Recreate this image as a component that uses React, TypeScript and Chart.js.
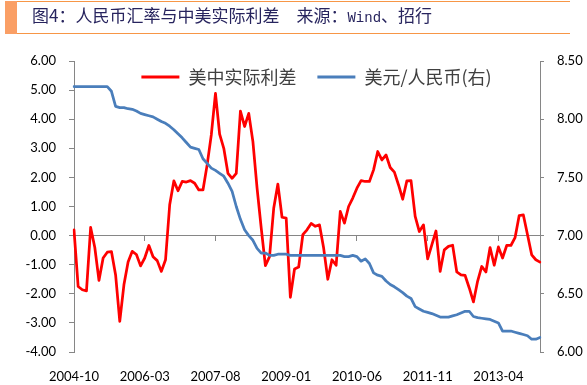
import React, { useEffect, useRef } from 'react';
import { Chart, registerables } from 'chart.js';

Chart.register(...registerables);

// ---- data ----
const START_YEAR = 2004;
const START_MONTH = 10;
const LABEL_STEP = 17;

const SERIES_NAMES = ['美中实际利差', '美元/人民币(右)'];

// US-China real interest rate differential (left axis)
const RATE_DIFF = [
  0.20, -1.75, -1.86, -1.90, 0.28, -0.41, -1.54, -0.77, -0.57, -0.55,
  -1.35, -2.95, -1.69, -0.91, -0.54, -0.65, -1.04, -0.77, -0.34, -0.73,
  -0.86, -1.23, -0.83, 1.06, 1.88, 1.54, 1.86, 1.84, 1.89, 1.80,
  1.57, 1.57, 2.43, 3.46, 4.89, 3.49, 3.00, 2.14, 1.97, 2.14,
  4.28, 3.75, 4.20, 3.23, 1.63, 0.26, -1.03, -0.72, 0.94, 1.77,
  0.63, 0.60, -2.12, -1.15, -1.08, 0.03, 0.20, 0.42, 0.32, 0.37,
  -0.43, -1.50, -0.83, -1.02, 0.83, 0.43, 1.00, 1.29, 1.63, 1.89,
  1.86, 1.86, 2.26, 2.89, 2.60, 2.77, 2.34, 2.18, 1.74, 1.25,
  1.88, 1.89, 0.66, 0.14, 0.37, -0.80, -0.32, 0.16, -1.23, -0.49,
  -0.37, -0.33, -1.25, -1.35, -1.37, -1.80, -2.28, -1.57, -1.06, -1.25,
  -0.41, -1.02, -0.39, -0.77, -0.34, -0.34, -0.07, 0.69, 0.71, 0.03,
  -0.66, -0.83, -0.91,
];

// USD/CNY (right axis)
const USD_CNY = [
  8.28, 8.28, 8.28, 8.28, 8.28, 8.28, 8.28, 8.28, 8.28, 8.24,
  8.11, 8.10, 8.10, 8.09, 8.085, 8.07, 8.05, 8.04, 8.03, 8.02,
  8.00, 7.98, 7.965, 7.94, 7.91, 7.875, 7.84, 7.80, 7.76, 7.75,
  7.74, 7.66, 7.62, 7.58, 7.56, 7.535, 7.51, 7.45, 7.38, 7.25,
  7.14, 7.05, 7.00, 6.96, 6.89, 6.85, 6.85, 6.83, 6.83, 6.84,
  6.84, 6.84, 6.83, 6.83, 6.83, 6.83, 6.83, 6.83, 6.83, 6.83,
  6.83, 6.83, 6.83, 6.83, 6.83, 6.82, 6.82, 6.83, 6.82, 6.78,
  6.80, 6.76, 6.68, 6.66, 6.65, 6.61, 6.58, 6.56, 6.535, 6.51,
  6.48, 6.46, 6.39, 6.37, 6.35, 6.34, 6.33, 6.315, 6.30, 6.30,
  6.30, 6.31, 6.32, 6.335, 6.35, 6.35, 6.305, 6.295, 6.29, 6.285,
  6.28, 6.265, 6.25, 6.18, 6.18, 6.18, 6.17, 6.16, 6.15, 6.14,
  6.11, 6.11, 6.125,
];

const LEFT_AXIS = { min: -4, max: 6, step: 1 };
const RIGHT_AXIS = { min: 6, max: 8.5, step: 0.5 };

const MONTHS = RATE_DIFF.map((_, i) => {
  const m = START_MONTH - 1 + i;
  const y = START_YEAR + Math.floor(m / 12);
  const mm = (m % 12) + 1;
  return `${y}-${String(mm).padStart(2, '0')}`;
});

// ---- styles ----
const AXIS_COLOR = '#868686';
const RED = '#FF0000';
const BLUE = '#4A7EBB';
const TICK_FONT = { family: 'Lato', size: 13 };
const LEGEND_FONT = { family: '"Noto Sans CJK SC"', size: 18 };

const legendPlacer = {
  id: 'legendPlacer',
  afterLayout(chart: any) {
    const lg = chart.legend;
    if (!lg) return;
    const top = 47;
    const centerX = 316.5;
    const dx = centerX - (lg.left + lg.right) / 2;
    lg.left += dx;
    lg.right += dx;
    lg.top = top;
    lg.height = 50;
    lg.bottom = top + 50;
  },
};

function RateChart() {
  const ref = useRef<HTMLCanvasElement | null>(null);
  useEffect(() => {
    if (!ref.current) return;
    const chart = new Chart(ref.current, {
      type: 'line',
      data: {
        labels: MONTHS,
        datasets: [
          {
            label: SERIES_NAMES[0],
            data: RATE_DIFF,
            yAxisID: 'y',
            borderColor: RED,
            backgroundColor: RED,
            borderWidth: 2.75,
            pointRadius: 0,
            tension: 0,
            borderJoinStyle: 'round',
            borderCapStyle: 'round',
            order: 1,
          },
          {
            label: SERIES_NAMES[1],
            data: USD_CNY,
            yAxisID: 'y1',
            borderColor: BLUE,
            backgroundColor: BLUE,
            borderWidth: 2.75,
            pointRadius: 0,
            tension: 0,
            borderJoinStyle: 'round',
            borderCapStyle: 'round',
            order: 0,
          },
        ],
      },
      options: {
        responsive: false,
        animation: false,
        devicePixelRatio: 1,
        layout: { padding: { top: 61, left: 0, right: 0, bottom: 0 } },
        plugins: {
          tooltip: { enabled: false },
          legend: {
            display: true,
            position: 'top',
            maxHeight: 0.01,
            labels: {
              boxWidth: 38,
              boxHeight: 3,
              padding: 21,
              color: '#404040',
              font: LEGEND_FONT,
              sort: (a: any, b: any) => a.datasetIndex - b.datasetIndex,
              generateLabels: (c: any) =>
                Chart.defaults.plugins.legend.labels
                  .generateLabels(c)
                  .map((it: any) => ({ ...it, lineWidth: 0 })),
            },
          },
        },
        scales: {
          x: {
            type: 'category',
            position: 'bottom',
            offset: false,
            grid: { display: false, drawTicks: false },
            border: { display: false },
            ticks: {
              autoSkip: false,
              maxRotation: 0,
              minRotation: 0,
              padding: 17.5,
              color: '#000000',
              font: TICK_FONT,
              callback: function (this: any, v: any, i: number) {
                return i % LABEL_STEP === 0 ? this.getLabelForValue(v) : null;
              },
            },
            afterFit: (s: any) => {
              s.height = 33;
            },
          },
          xz: {
            type: 'category',
            position: { y: 0 },
            offset: false,
            grid: {
              display: true,
              drawOnChartArea: false,
              drawTicks: true,
              tickLength: 5,
              lineWidth: 1,
              color: (c: any) => (c.index % LABEL_STEP === 0 ? AXIS_COLOR : 'rgba(0,0,0,0)'),
            },
            border: { display: true, color: AXIS_COLOR, width: 1 },
            ticks: { display: false, autoSkip: false },
          },
          y: {
            type: 'linear',
            position: 'left',
            min: LEFT_AXIS.min,
            max: LEFT_AXIS.max,
            grid: { drawOnChartArea: false, drawTicks: true, tickLength: 5, color: AXIS_COLOR },
            border: { display: true, color: AXIS_COLOR, width: 1 },
            ticks: {
              stepSize: LEFT_AXIS.step,
              padding: 13,
              color: '#000000',
              font: TICK_FONT,
              callback: (v: any) => Number(v).toFixed(2),
            },
            afterFit: (s: any) => {
              s.width = 74;
            },
          },
          y1: {
            type: 'linear',
            position: 'right',
            min: RIGHT_AXIS.min,
            max: RIGHT_AXIS.max,
            grid: { drawOnChartArea: false, drawTicks: true, tickLength: 4, color: AXIS_COLOR },
            border: { display: true, color: AXIS_COLOR, width: 1 },
            ticks: {
              stepSize: RIGHT_AXIS.step,
              padding: 13,
              color: '#000000',
              font: TICK_FONT,
              callback: (v: any) => Number(v).toFixed(2),
            },
            afterFit: (s: any) => {
              s.width = 47;
            },
          },
        },
      } as any,
      plugins: [legendPlacer],
    });
    return () => chart.destroy();
  }, []);
  return (
    <canvas
      ref={ref}
      width={587}
      height={385}
      style={{ position: 'absolute', left: 0, top: 0, width: 587, height: 385 }}
    />
  );
}

export default function App() {
  return (
    <div style={{ position: 'fixed', left: 0, top: 0, width: 587, height: 385, background: '#ffffff', overflow: 'hidden' }}>
      <RateChart />
      <div
        style={{
          position: 'absolute', left: 5, top: 1, width: 12, height: 33, background: '#FA9F65',
        }}
      />
      <div
        style={{
          position: 'absolute', left: 17, top: 1, width: 553, height: 33, boxSizing: 'border-box',
          borderTop: '1px solid #F79646', borderBottom: '1px solid #F79646',
        }}
      />
      <div
        style={{
          position: 'absolute', left: 32, top: 6, fontFamily: '"Noto Sans CJK SC"', fontSize: 17,
          lineHeight: '17px', color: '#27245E', whiteSpace: 'pre',
        }}
      >
        图4：人民币汇率与中美实际利差　来源：
        <span style={{ fontFamily: '"Liberation Mono"', fontSize: 14 }}>Wind</span>、招行
      </div>
    </div>
  );
}
